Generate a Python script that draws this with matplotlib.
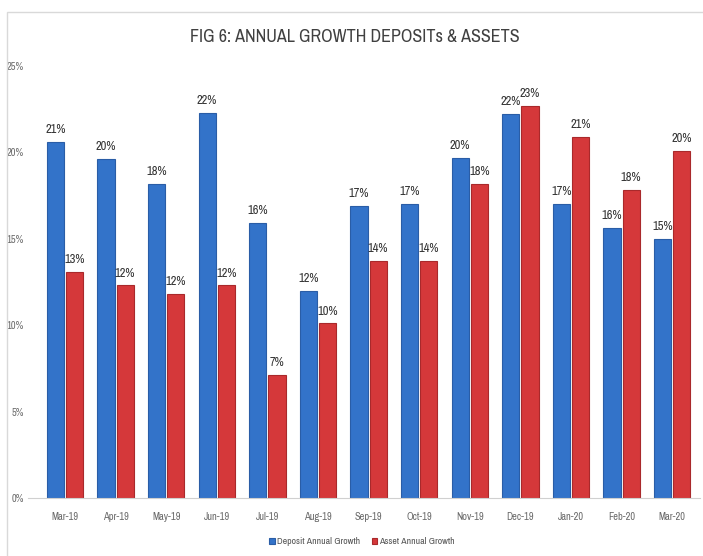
import numpy as np
import matplotlib.pyplot as plt
from matplotlib.patches import Rectangle

### data
months = ['Mar-19', 'Apr-19', 'May-19', 'Jun-19', 'Jul-19', 'Aug-19', 'Sep-19',
          'Oct-19', 'Nov-19', 'Dec-19', 'Jan-20', 'Feb-20', 'Mar-20']
deposit = [20.6, 19.6, 18.2, 22.3, 15.9, 12.0, 16.9, 17.0, 19.7, 22.2, 17.0, 15.6, 15.0]
asset = [13.1, 12.3, 11.8, 12.3, 7.1, 10.1, 13.7, 13.7, 18.2, 22.7, 20.9, 17.8, 20.1]
yticks = [0, 5, 10, 15, 20, 25]

### condensed face, like the original
plt.rcParams['font.family'] = ['Archivo Narrow', 'DejaVu Sans']

fig = plt.figure(figsize=(7.03, 5.56), dpi=100)
# light frame of the original chart box
fig.patches.append(Rectangle((7 / 703, -0.1), 1.2, (1 - 12 / 556) + 0.1,
                             transform=fig.transFigure, fill=False,
                             edgecolor='#d9d9d9', linewidth=1.0))

ax = fig.add_axes([28 / 703, 1 - 498 / 556, (700 - 28) / 703, (498 - 66) / 556])

x = np.arange(len(months))
w = 0.34
b1 = ax.bar(x - w / 2 - 0.02, deposit, w, color='#3373c9', edgecolor='#2a5da6', linewidth=0.8,
            label='Deposit Annual Growth')
b2 = ax.bar(x + w / 2 + 0.02, asset, w, color='#d5383a', edgecolor='#a9292b', linewidth=0.8,
            label='Asset Annual Growth')

### value labels
for bars, vals in [(b1, deposit), (b2, asset)]:
    for r, v in zip(bars, vals):
        ax.annotate('%d%%' % int(v + 0.5), (r.get_x() + r.get_width() / 2, v),
                    xytext=(0, 5), textcoords='offset points', ha='center', va='bottom',
                    fontsize=9, color='#333333', fontweight='bold')

ax.set_xlim(-0.73, 12.55)
ax.set_ylim(0, 25)
ax.set_yticks(yticks)
ax.set_yticklabels(['%d%%' % t for t in yticks], fontsize=7.5, color='#6a6a6a')
ax.set_xticks(x)
ax.set_xticklabels(months, fontsize=7.5, color='#6a6a6a')
ax.tick_params(length=0, pad=10)
ax.tick_params(axis='y', pad=3)
for s in ['top', 'right', 'left']:
    ax.spines[s].set_visible(False)
ax.spines['bottom'].set_color('#d0d0d0')

fig.text(355 / 703, 1 - 37 / 556, 'FIG 6: ANNUAL GROWTH DEPOSITs & ASSETS', ha='center', va='center',
         fontsize=13, color='#404040')

fig.legend(handles=[b1, b2], loc='center', bbox_to_anchor=(362 / 703, 1 - 542 / 556), ncol=2,
           frameon=False, fontsize=7, labelcolor='#555555',
           handlelength=0.6, handleheight=0.6, handletextpad=0.2, columnspacing=1.2)

plt.savefig('out.png', dpi=100)
